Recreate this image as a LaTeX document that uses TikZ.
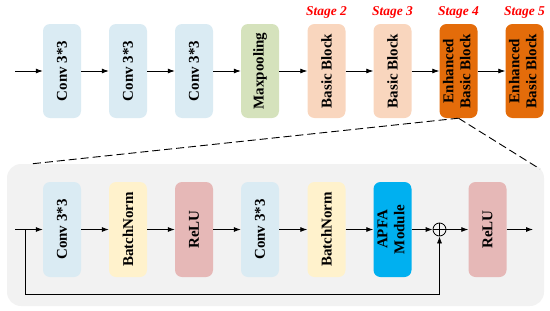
\documentclass[tikz,border=0pt]{standalone}
\usepackage{fontspec}
\setmainfont{Liberation Serif}
\usetikzlibrary{arrows.meta}
\definecolor{convc}{HTML}{DAEBF3}
\definecolor{poolc}{HTML}{D5E2BC}
\definecolor{basicc}{HTML}{F9D6BE}
\definecolor{enhc}{HTML}{E46C0A}
\definecolor{bnc}{HTML}{FFF2CC}
\definecolor{reluc}{HTML}{E6B8B7}
\definecolor{apfac}{HTML}{00B0F0}
\definecolor{panelc}{HTML}{F2F2F2}
\newcommand{\vtxt}[1]{\rotatebox{90}{\fontsize{15}{17}\selectfont\bfseries #1}}
\newcommand{\vtwo}[2]{\rotatebox{90}{\fontsize{15}{17}\selectfont\bfseries\begin{tabular}{@{}c@{}}#1\\#2\end{tabular}}}
\tikzset{
  blk/.style={draw=none, rounded corners=7pt, minimum width=38pt, minimum height=94pt, inner sep=0pt},
  lbl/.style={font=\fontsize{13.5}{15}\selectfont\bfseries\itshape, text=red},
  arr/.style={line width=0.8pt, -{Latex[length=7pt,width=5pt]}},
  dsh/.style={line width=0.9pt, dash pattern=on 8pt off 4pt},
}
\begin{document}
\begin{tikzpicture}[x=1pt,y=-1pt]
\useasboundingbox (0,0) rectangle (550,311);
% panel
\fill[panelc, rounded corners=14pt] (7,164) rectangle (544,306);
% top row
\node[blk, fill=convc] (c1) at (62,71) {\vtxt{Conv 3*3}};
\node[blk, fill=convc] (c2) at (128,71) {\vtxt{Conv 3*3}};
\node[blk, fill=convc] (c3) at (194,71) {\vtxt{Conv 3*3}};
\node[blk, fill=poolc] (mp) at (260,71) {\vtxt{Maxpooling}};
\node[blk, fill=basicc] (b1) at (326.5,71) {\vtxt{Basic Block}};
\node[blk, fill=basicc] (b2) at (392.5,71) {\vtxt{Basic Block}};
\node[blk, fill=enhc] (e1) at (458.5,71) {\vtwo{Enhanced}{Basic Block}};
\node[blk, fill=enhc] (e2) at (524.5,71) {\vtwo{Enhanced}{Basic Block}};
\node[lbl] (s2) at (326.5,12) {Stage 2};
\node[lbl] (s3) at (392.5,12) {Stage 3};
\node[lbl] (s4) at (458.5,12) {Stage 4};
\node[lbl] (s5) at (524.5,12) {Stage 5};
\coordinate (tin) at (15,71);
\draw[arr] (tin) -- (c1);
\draw[arr] (c1) -- (c2);
\draw[arr] (c2) -- (c3);
\draw[arr] (c3) -- (mp);
\draw[arr] (mp) -- (b1);
\draw[arr] (b1) -- (b2);
\draw[arr] (b2) -- (e1);
\draw[arr] (e1) -- (e2);
% dashed zoom lines
\coordinate (zl) at (30,164);
\coordinate (zr) at (540,169);
\draw[dsh] (e1.south) -- (zl);
\draw[dsh] (e1.south) -- (zr);
% bottom row
\node[blk, fill=convc, minimum height=95pt] (d1) at (62,229.5) {\vtxt{Conv 3*3}};
\node[blk, fill=bnc, minimum height=95pt] (d2) at (128,229.5) {\vtxt{BatchNorm}};
\node[blk, fill=reluc, minimum height=95pt] (d3) at (194,229.5) {\vtxt{ReLU}};
\node[blk, fill=convc, minimum height=95pt] (d4) at (260,229.5) {\vtxt{Conv 3*3}};
\node[blk, fill=bnc, minimum height=95pt] (d5) at (326.5,229.5) {\vtxt{BatchNorm}};
\node[blk, fill=apfac, minimum height=95pt] (d6) at (392.5,229.5) {\vtwo{APFA}{Module}};
\node[draw, circle, line width=0.8pt, minimum size=13pt, inner sep=0pt] (plus) at (439.5,229.5) {};
\draw[line width=0.8pt] (plus.north) -- (plus.south) (plus.west) -- (plus.east);
\node[blk, fill=reluc, minimum height=95pt] (d7) at (487.5,229.5) {\vtxt{ReLU}};
\coordinate (bin) at (15,229.5);
\coordinate (split) at (25,229.5);
\coordinate (bout) at (533,229.5);
\coordinate (sk1) at (25,294);
\coordinate (sk2) at (439.5,294);
\draw[arr] (bin) -- (d1);
\draw[arr] (d1) -- (d2);
\draw[arr] (d2) -- (d3);
\draw[arr] (d3) -- (d4);
\draw[arr] (d4) -- (d5);
\draw[arr] (d5) -- (d6);
\draw[arr] (d6) -- (plus);
\draw[arr] (plus) -- (d7);
\draw[arr] (d7) -- (bout);
\draw[arr] (split) -- (sk1) -- (sk2) -- (plus.south);
\end{tikzpicture}
\end{document}
